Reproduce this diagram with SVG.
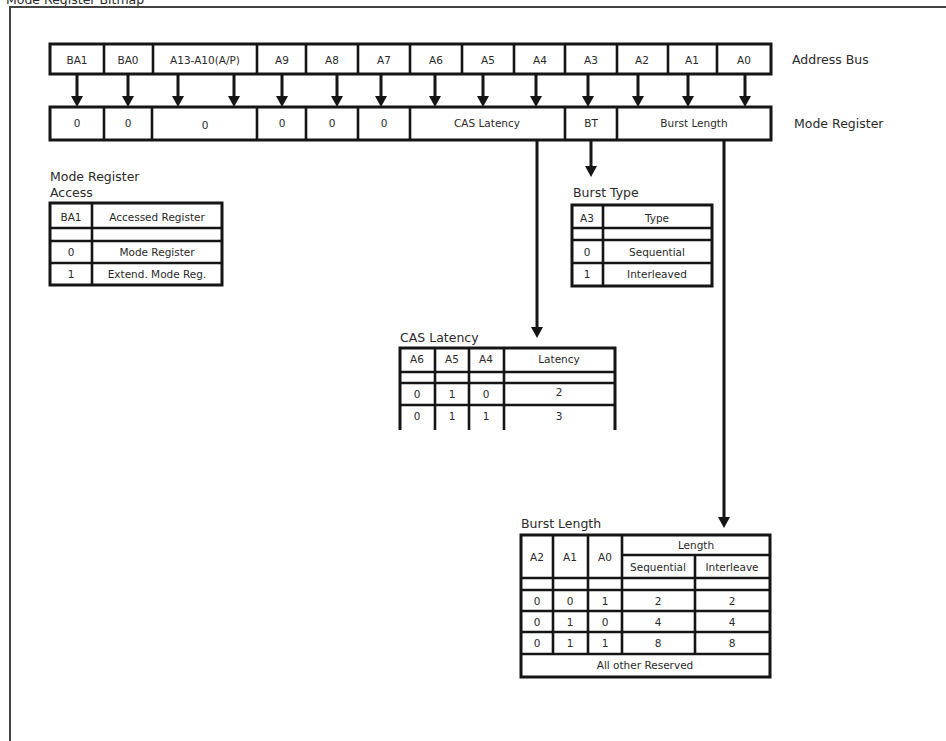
<svg xmlns="http://www.w3.org/2000/svg" width="946" height="741" viewBox="0 0 946 741">
<style>
.bg{fill:#fff}
.frame{fill:none;stroke:#444;stroke-width:2}
.box{fill:#fff;stroke:#151515;stroke-width:3}
.ln{stroke:#151515;stroke-width:2.6;fill:none}
.wire{stroke:#151515;stroke-width:3;fill:none}
.c{font-family:"DejaVu Sans","Liberation Sans",sans-serif;font-size:10.5px;fill:#2a2a2a;text-anchor:middle}
.lbl{font-family:"DejaVu Sans","Liberation Sans",sans-serif;font-size:12.5px;fill:#2a2a2a}
</style>
<defs>
<marker id="ah" markerUnits="userSpaceOnUse" markerWidth="12" markerHeight="12" viewBox="0 0 11 12" refX="0" refY="6" orient="auto">
<path d="M0,0 L11,6 L0,12 z" fill="#151515"/>
</marker>
</defs>
<rect class="bg" x="0" y="0" width="946" height="741"/>
<text class="lbl" x="6" y="4">Mode Register Bitmap</text>
<path class="frame" d="M10,741 V7 H946"/>

<g id="address-bus">
<rect class="box" x="50" y="44" width="721" height="30"/>
<path class="ln" d="M104,44V74M153,44V74M257,44V74M306,44V74M358,44V74M410,44V74M462,44V74M514,44V74M565,44V74M617,44V74M668,44V74M717,44V74"/>
<text class="c" x="77" y="63.5">BA1</text>
<text class="c" x="128" y="63.5">BA0</text>
<text class="c" x="205" y="63.5">A13-A10(A/P)</text>
<text class="c" x="282" y="63.5">A9</text>
<text class="c" x="332" y="63.5">A8</text>
<text class="c" x="384" y="63.5">A7</text>
<text class="c" x="436" y="63.5">A6</text>
<text class="c" x="488" y="63.5">A5</text>
<text class="c" x="540" y="63.5">A4</text>
<text class="c" x="591" y="63.5">A3</text>
<text class="c" x="642" y="63.5">A2</text>
<text class="c" x="692" y="63.5">A1</text>
<text class="c" x="744" y="63.5">A0</text>
<text class="lbl" x="792" y="64">Address Bus</text>
</g>

<g id="mode-register">
<rect class="box" x="50" y="107" width="721" height="33"/>
<path class="ln" d="M104,107V140M152,107V140M257,107V140M306,107V140M358,107V140M410,107V140M565,107V140M617,107V140"/>
<text class="c" x="77" y="127">0</text>
<text class="c" x="128" y="127">0</text>
<text class="c" x="205" y="129">0</text>
<text class="c" x="282" y="127">0</text>
<text class="c" x="332" y="127">0</text>
<text class="c" x="384" y="127">0</text>
<text class="c" x="487" y="127">CAS Latency</text>
<text class="c" x="591" y="127">BT</text>
<text class="c" x="694" y="127">Burst Length</text>
<text class="lbl" x="794" y="128">Mode Register</text>
</g>

<g id="connectors">
<path class="wire" marker-end="url(#ah)" d="M77,74V96"/>
<path class="wire" marker-end="url(#ah)" d="M128,74V96"/>
<path class="wire" marker-end="url(#ah)" d="M178,74V96"/>
<path class="wire" marker-end="url(#ah)" d="M234,74V96"/>
<path class="wire" marker-end="url(#ah)" d="M282,74V96"/>
<path class="wire" marker-end="url(#ah)" d="M337,74V96"/>
<path class="wire" marker-end="url(#ah)" d="M381,74V96"/>
<path class="wire" marker-end="url(#ah)" d="M435,74V96"/>
<path class="wire" marker-end="url(#ah)" d="M483,74V96"/>
<path class="wire" marker-end="url(#ah)" d="M536,74V96"/>
<path class="wire" marker-end="url(#ah)" d="M588,74V96"/>
<path class="wire" marker-end="url(#ah)" d="M638,74V96"/>
<path class="wire" marker-end="url(#ah)" d="M688,74V96"/>
<path class="wire" marker-end="url(#ah)" d="M745,74V96"/>
<path class="wire" marker-end="url(#ah)" d="M591,140V166"/>
<path class="wire" marker-end="url(#ah)" d="M537,140V327"/>
<path class="wire" marker-end="url(#ah)" d="M724,140V517"/>
</g>

<g id="mode-register-access">
<text class="lbl" x="50" y="181">Mode Register</text>
<text class="lbl" x="50" y="197">Access</text>
<rect class="box" x="50" y="203" width="172" height="82"/>
<path class="ln" d="M92,203V285M50,228H222M50,241H222M50,263H222"/>
<text class="c" x="71" y="221">BA1</text>
<text class="c" x="157" y="221">Accessed Register</text>
<text class="c" x="71" y="256">0</text>
<text class="c" x="157" y="256">Mode Register</text>
<text class="c" x="71" y="278">1</text>
<text class="c" x="157" y="278">Extend. Mode Reg.</text>
</g>

<g id="burst-type">
<text class="lbl" x="573" y="197">Burst Type</text>
<rect class="box" x="572" y="205" width="140" height="81"/>
<path class="ln" d="M603,205V286M572,228H712M572,240H712M572,263H712"/>
<text class="c" x="587" y="222">A3</text>
<text class="c" x="657" y="222">Type</text>
<text class="c" x="587" y="256">0</text>
<text class="c" x="657" y="256">Sequential</text>
<text class="c" x="587" y="278">1</text>
<text class="c" x="657" y="278">Interleaved</text>
</g>

<g id="cas-latency">
<text class="lbl" x="400" y="342">CAS Latency</text>
<path class="box" d="M400,430V348H615V430"/>
<path class="ln" d="M435,348V430M469,348V430M504,348V430M400,372H615M400,383H615M400,405H615"/>
<text class="c" x="417" y="363">A6</text>
<text class="c" x="452" y="363">A5</text>
<text class="c" x="486" y="363">A4</text>
<text class="c" x="559" y="363">Latency</text>
<text class="c" x="417" y="398">0</text>
<text class="c" x="452" y="398">1</text>
<text class="c" x="486" y="398">0</text>
<text class="c" x="559" y="396">2</text>
<text class="c" x="417" y="420">0</text>
<text class="c" x="452" y="420">1</text>
<text class="c" x="486" y="420">1</text>
<text class="c" x="559" y="420">3</text>
</g>

<g id="burst-length">
<text class="lbl" x="521" y="528">Burst Length</text>
<rect class="box" x="521" y="535" width="249" height="142"/>
<path class="ln" d="M553,535V654M588,535V654M622,535V654M695,555V654M622,555H770M521,578H770M521,590H770M521,611H770M521,632H770M521,654H770"/>
<text class="c" x="537" y="561">A2</text>
<text class="c" x="570" y="561">A1</text>
<text class="c" x="605" y="561">A0</text>
<text class="c" x="696" y="549">Length</text>
<text class="c" x="658" y="571">Sequential</text>
<text class="c" x="732" y="571">Interleave</text>
<text class="c" x="537" y="605">0</text>
<text class="c" x="570" y="605">0</text>
<text class="c" x="605" y="605">1</text>
<text class="c" x="658" y="605">2</text>
<text class="c" x="732" y="605">2</text>
<text class="c" x="537" y="626">0</text>
<text class="c" x="570" y="626">1</text>
<text class="c" x="605" y="626">0</text>
<text class="c" x="658" y="626">4</text>
<text class="c" x="732" y="626">4</text>
<text class="c" x="537" y="647">0</text>
<text class="c" x="570" y="647">1</text>
<text class="c" x="605" y="647">1</text>
<text class="c" x="658" y="647">8</text>
<text class="c" x="732" y="647">8</text>
<text class="c" x="645" y="669">All other Reserved</text>
</g>
</svg>
